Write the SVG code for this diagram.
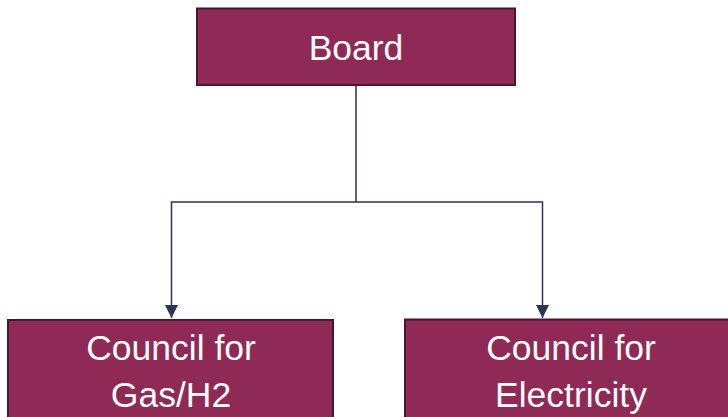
<svg xmlns="http://www.w3.org/2000/svg" width="728" height="417" viewBox="0 0 728 417">
<defs>
<style>
.box{fill:#8E2A55;stroke:#4A1530;stroke-width:2}
.lbl{fill:#ffffff;font-family:"Liberation Sans",Arial,sans-serif;font-size:35.5px;text-anchor:middle}
.con{fill:none;stroke:#2E3454;stroke-width:1.5}
</style>
<marker id="arr" viewBox="0 0 10 10" refX="10" refY="5" markerWidth="13" markerHeight="13" markerUnits="userSpaceOnUse" orient="auto">
<path d="M0,0 L10,5 L0,10 z" fill="#2E3454"/>
</marker>
</defs>
<rect width="728" height="417" fill="#ffffff"/>
<g id="connectors">
<path class="con" d="M356,85 V202 H171.5 V318" marker-end="url(#arr)"/>
<path class="con" d="M356,202 H542.5 V318" marker-end="url(#arr)"/>
</g>
<g id="board">
<rect class="box" x="197" y="8.5" width="318" height="76.5"/>
<text class="lbl" x="356" y="60">Board</text>
</g>
<g id="gas">
<rect class="box" x="8" y="320" width="325" height="110"/>
<text class="lbl" x="171" y="360">Council for</text>
<text class="lbl" x="171" y="407">Gas/H2</text>
</g>
<g id="electricity">
<rect class="box" x="405" y="319.5" width="335" height="110"/>
<text class="lbl" x="571" y="360">Council for</text>
<text class="lbl" x="571" y="407">Electricity</text>
</g>
</svg>
